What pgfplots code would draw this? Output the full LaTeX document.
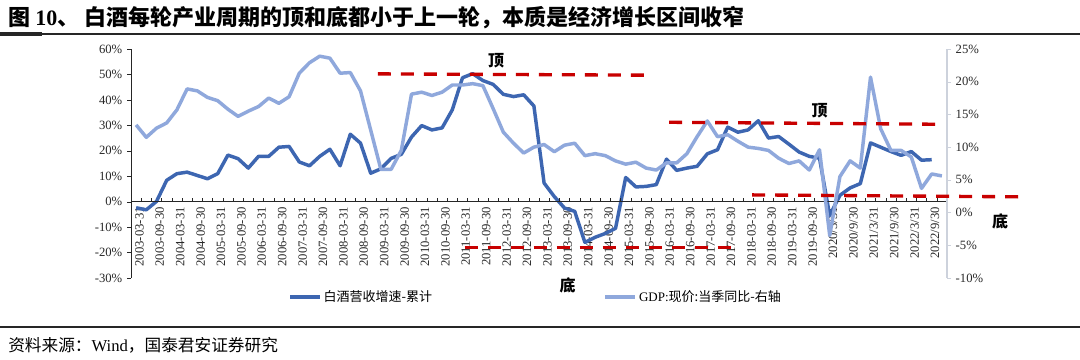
\documentclass[border=0pt]{standalone}
\usepackage{pgfplots}
\usepackage{pgfplotstable}
\pgfplotsset{compat=1.18}
\usepackage{fontspec}
\setmainfont{Liberation Serif}
\newfontfamily\cjk{Noto Sans CJK SC}
\definecolor{darkb}{RGB}{61,102,177}
\definecolor{lightb}{RGB}{143,168,220}
\definecolor{redd}{RGB}{200,0,0}
\definecolor{axgray}{RGB}{205,210,220}
\definecolor{txt}{RGB}{40,40,40}

\pgfplotstableread{
i v
0 -2.4
1 -3.2
2 0.1
3 8.4
4 11.0
5 11.6
6 10.3
7 9.0
8 11.0
9 18.3
10 16.9
11 13.2
12 17.8
13 17.8
14 21.4
15 21.7
16 15.6
17 14.1
18 17.8
19 20.6
20 14.1
21 26.5
22 23.0
23 11.2
24 12.9
25 17.0
26 18.6
27 25.4
28 29.9
29 28.2
30 29.0
31 36.1
32 48.7
33 50.3
34 47.6
35 46.1
36 42.2
37 41.3
38 42.0
39 37.6
40 7.3
41 2.0
42 -2.5
43 -3.8
44 -16.0
45 -14.0
46 -12.5
47 -10.5
48 9.5
49 5.8
50 6.0
51 6.7
52 16.7
53 12.3
54 13.2
55 13.9
56 18.8
57 20.4
58 29.3
59 27.3
60 28.2
61 31.8
62 25.0
63 25.6
64 22.6
65 19.5
66 17.8
67 17.1
68 -5.5
69 2.5
70 5.4
71 7.1
72 23.1
73 21.4
74 19.7
75 18.2
76 19.7
77 16.3
78 16.5
}\baijiu

\pgfplotstableread{
i v
0 13.4
1 11.5
2 12.9
3 13.7
4 15.7
5 18.9
6 18.6
7 17.6
8 17.1
9 15.8
10 14.7
11 15.5
12 16.2
13 17.5
14 16.7
15 17.7
16 21.3
17 22.9
18 23.9
19 23.6
20 21.3
21 21.4
22 18.6
23 12.6
24 6.6
25 6.6
26 9.5
27 18.1
28 18.4
29 17.9
30 18.4
31 19.5
32 19.5
33 19.7
34 19.4
35 15.9
36 12.3
37 10.6
38 9.1
39 10.0
40 10.4
41 9.3
42 10.3
43 10.6
44 8.7
45 9.0
46 8.7
47 7.9
48 7.4
49 7.7
50 6.8
51 6.5
52 7.6
53 7.6
54 9.0
55 11.6
56 14.0
57 11.6
58 11.9
59 10.9
60 10.0
61 9.8
62 9.5
63 8.3
64 7.5
65 7.9
66 6.5
67 9.6
68 -3.5
69 5.5
70 7.9
71 6.8
72 20.7
73 12.8
74 9.5
75 9.5
76 8.5
77 3.7
78 5.9
79 5.6
}\gdp

\pgfplotsset{
  base/.style={
    at={(98.25pt,61.5pt)}, anchor=south west,
    scale only axis, width=612pt, height=171.75pt,
    xmin=-0.5, xmax=79.5,
    clip=false,
    /pgf/number format/assume math mode=true,
    tick label style={font=\fontsize{9.5}{10}\selectfont, text=txt},
  }
}

\begin{document}
\begin{tikzpicture}
\useasboundingbox (0,0) rectangle (810pt,270pt);
\fill[white] (0,0) rectangle (810pt,270pt);

% title
\node[anchor=base west, inner sep=0pt, font=\fontsize{16.5}{18}\selectfont] at (6pt,251pt)
  {\cjk\bfseries 图 {\rmfamily\bfseries 10}、 白酒每轮产业周期的顶和底都小于上一轮，本质是经济增长区间收窄};
\draw[line width=0.8pt, black!85] (0,244.5pt) -- (810pt,244.5pt);
\draw[line width=2.4pt, black!85] (0,244.5pt) -- (31.5pt,244.5pt);

% footer
\draw[line width=1.6pt, black!85] (0,24.5pt) -- (810pt,24.5pt);
\node[anchor=base west, inner sep=0pt, font=\fontsize{12.5}{14}\selectfont] at (6pt,6.5pt)
  {\cjk 资料来源：{\rmfamily Wind}，国泰君安证券研究};

% left axis
\begin{axis}[base,
  ymin=-30, ymax=60,
  axis y line*=left, axis x line*=middle,
  hide obscured x ticks=false,
  tick align=outside,
  major tick length=3pt,
  ytick={-30,-20,...,60},
  yticklabel={\pgfmathprintnumber{\tick}\%},
  xtick={0,2,...,78},
  xticklabels={2003-03-31,2003-09-30,2004-03-31,2004-09-30,2005-03-31,2005-09-30,2006-03-31,2006-09-30,2007-03-31,2007-09-30,2008-03-31,2008-09-30,2009-03-31,2009-09-30,2010-03-31,2010-09-30,2011-03-31,2011-09-30,2012-03-31,2012-09-30,2013-03-31,2013-09-30,2014-03-31,2014-09-30,2015-03-31,2015-09-30,2016-03-31,2016-09-30,2017-03-31,2017-09-30,2018-03-31,2018-09-30,2019-03-31,2019-09-30,2020/3/31,2020/9/30,2021/3/31,2021/9/30,2022/3/31,2022/9/30},
  xtick style={draw=none},
  xticklabel style={rotate=90, anchor=east, inner sep=1pt, yshift=-2.5pt},
  axis line style={black!85, line width=0.6pt},
  y tick style={black!85},
]
\addplot[darkb, line width=2.6pt, line join=round] table[x=i,y=v] {\baijiu};
\end{axis}

% x tick marks (inside, upward)
\begin{axis}[base,
  ymin=-30, ymax=60,
  axis y line=none, axis x line*=middle,
  hide obscured x ticks=false,
  tick align=inside, major tick length=3pt,
  xtick={-0.5,0.5,...,79.5}, xticklabels={},
  axis line style={black!85, line width=0.6pt},
  x tick style={black!85},
]
\addplot[draw=none] coordinates {(0,0)};
\end{axis}

% right axis
\begin{axis}[base,
  ymin=-10, ymax=25,
  axis y line*=right, axis x line=none,
  tick align=outside, major tick length=3pt,
  ytick={-10,-5,...,25},
  yticklabel={\pgfmathprintnumber{\tick}\%},
  axis line style={axgray, line width=0.8pt},
  y tick style={axgray},
  legend style={at={(axis description cs:0.1924,-0.083)}, anchor=west,
    draw=none, fill=none, inner sep=0pt,
    font=\fontsize{9.75}{11}\selectfont,
    /tikz/every even column/.append style={column sep=127pt},
    nodes={inner sep=1.5pt}},
  legend columns=2,
  legend image code/.code={\draw[#1] (0pt,0pt) -- (22.5pt,0pt);},
]
\addlegendimage{darkb, line width=2.6pt}
\addlegendentry{\cjk 白酒营收增速-累计}
\addplot[lightb, line width=2.6pt, line join=round] table[x=i,y=v] {\gdp};
\addlegendentry{{\rmfamily GDP:}\cjk 现价:当季同比-右轴}

\addplot[redd, line width=2.5pt, dash pattern=on 9.75pt off 7.5pt, forget plot] coordinates {(23.7,21.2) (50.2,21.0)};
\addplot[redd, line width=2.5pt, dash pattern=on 9.75pt off 7.5pt, forget plot] coordinates {(52.25,13.8) (78.6,13.5)};
\addplot[redd, line width=2.5pt, dash pattern=on 9.75pt off 7.5pt, forget plot] coordinates {(32.2,-5.35) (58.7,-5.35)};
\addplot[redd, line width=2.5pt, dash pattern=on 9.75pt off 7.5pt, forget plot] coordinates {(60.4,2.7) (86.9,2.4)};

\node[font=\fontsize{12}{13}\selectfont\cjk\bfseries] at (axis cs:35.3,23.2) {顶};
\node[font=\fontsize{12}{13}\selectfont\cjk\bfseries] at (axis cs:67.0,15.6) {顶};
\node[font=\fontsize{12}{13}\selectfont\cjk\bfseries] at (axis cs:42.3,-11.2) {底};
\node[font=\fontsize{12}{13}\selectfont\cjk\bfseries] at (axis cs:84.7,-1.4) {底};
\end{axis}
\end{tikzpicture}
\end{document}
